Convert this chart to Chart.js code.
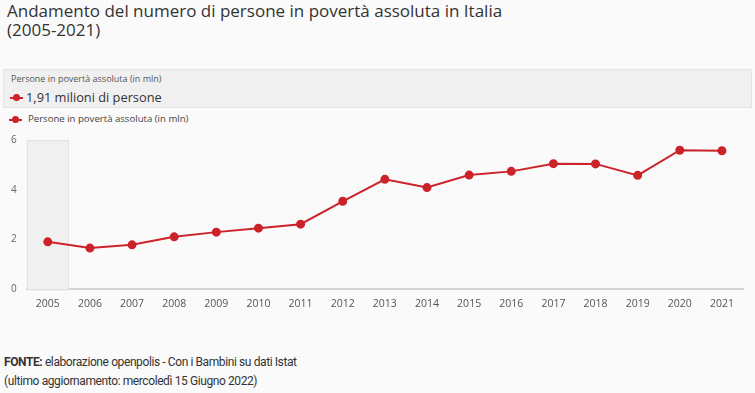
<!DOCTYPE html>
<html lang="it">
<head>
<meta charset="utf-8">
<script src="https://cdn.jsdelivr.net/npm/chart.js@4"></script>
<style>
  html, body { margin: 0; padding: 0; background: #fafafa; }
  body { width: 755px; height: 393px; position: relative; overflow: hidden; font-family: "Open Sans", "Noto Sans", sans-serif; color: #333; }
  #title { position: absolute; left: 7px; top: 1px; font-size: 17px; line-height: 19px; color: #333; }
  #info { position: absolute; left: 3px; top: 69px; width: 747px; height: 37px; background: #f0f0f0; border: 1px solid #e4e4e4; }
  #info .lbl { position: absolute; left: 7px; top: 2px; font-size: 9px; color: #555; }
  #info .val { position: absolute; left: 22px; top: 18px; font-size: 12.8px; color: #333; }
  .mk { position: absolute; width: 13px; height: 2px; background: #cc2229; }
  .mk::after { content: ""; position: absolute; left: 3px; top: -3px; width: 7px; height: 7px; border-radius: 50%; background: #cc2229; }
  #legend { position: absolute; left: 28px; top: 112px; font-size: 9.6px; color: #444; }
  #wrap { position: absolute; left: 0; top: 124px; width: 755px; height: 186px; }
  .fonte { position: absolute; left: 4px; font-family: Roboto, sans-serif; font-size: 12px; color: #333; letter-spacing: -0.4px; }
</style>
</head>
<body>
<div id="title">Andamento del numero di persone in povertà assoluta in Italia<br>(2005-2021)</div>
<div id="info">
  <div class="lbl">Persone in povertà assoluta (in mln)</div>
  <div class="mk" style="left:6px;top:27px"></div>
  <div class="val">1,91 milioni di persone</div>
</div>
<div class="mk" style="left:9px;top:119px"></div>
<div id="legend">Persone in povertà assoluta (in mln)</div>
<div id="wrap"><canvas id="chart"></canvas></div>
<div class="fonte" style="top:355px"><b style="font-weight:700">FONTE:</b> elaborazione openpolis - Con i Bambini su dati Istat</div>
<div class="fonte" style="top:374px">(ultimo aggiornamento: mercoledì 15 Giugno 2022)</div>
<script>
const anni = ['2005', '2006', '2007', '2008', '2009', '2010', '2011', '2012', '2013', '2014', '2015', '2016', '2017', '2018', '2019', '2020', '2021'];
const persone = [1.91, 1.66, 1.79, 2.11, 2.30, 2.46, 2.62, 3.54, 4.42, 4.09, 4.59, 4.74, 5.05, 5.04, 4.58, 5.59, 5.57];
const yTicks = [0, 2, 4, 6];
const annoEvidenziato = '2005';

// colonna evidenziata dietro la serie
const highlight = {
    id: 'highlight',
    beforeDatasetsDraw(chart) {
        const x = chart.scales.x, y = chart.scales.y;
        const i = anni.indexOf(annoEvidenziato);
        const step = x.getPixelForValue(1) - x.getPixelForValue(0);
        const cx = x.getPixelForValue(i);
        const c = chart.ctx;
        c.save();
        c.fillStyle = '#f0f0f0';
        c.strokeStyle = '#e2e2e2';
        c.lineWidth = 1;
        c.fillRect(cx - step / 2, y.top, step, y.bottom - y.top);
        c.strokeRect(Math.round(cx - step / 2) + 0.5, y.top + 0.5, Math.round(step) - 1, y.bottom - y.top);
        c.restore();
    }
};

new Chart(document.getElementById('chart'), {
    type: 'line',
    data: {
        labels: anni,
        datasets: [{
            label: 'Persone in povertà assoluta (in mln)',
            data: persone,
            borderColor: '#cc2229',
            backgroundColor: '#cc2229',
            borderWidth: 2,
            pointRadius: 3.5,
            pointHoverRadius: 4,
            tension: 0
        }]
    },
    options: {
        responsive: true,
        maintainAspectRatio: false,
        animation: false,
        layout: { padding: { left: 1, right: 12, top: 8, bottom: 0 } },
        plugins: {
            legend: { display: false },
            tooltip: { enabled: false }
        },
        scales: {
            x: {
                offset: true,
                grid: { display: false },
                border: { color: '#d4d4d4', width: 2 },
                ticks: { color: '#555', font: { family: 'Open Sans', size: 10.5 }, maxRotation: 0, padding: 0 }
            },
            y: {
                min: 0,
                max: 6,
                afterBuildTicks(axis) { axis.ticks = yTicks.map(v => ({ value: v })); },
                grid: { display: false, drawTicks: false },
                border: { display: false },
                ticks: { color: '#666', font: { family: 'Open Sans', size: 10 }, padding: 10 }
            }
        }
    },
    plugins: [highlight]
});
</script>
</body>
</html>
